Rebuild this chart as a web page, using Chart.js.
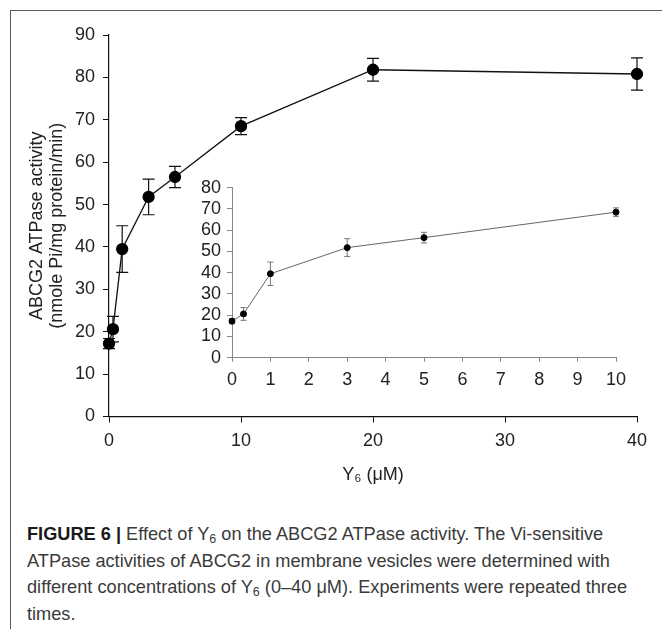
<!DOCTYPE html>
<html>
<head>
<meta charset="utf-8">
<script src="https://cdn.jsdelivr.net/npm/chart.js@4.4.1/dist/chart.umd.min.js"></script>
<style>
  html, body { margin: 0; padding: 0; background: #fff; }
  body { width: 662px; height: 629px; position: relative; overflow: hidden; }
  #frame { position: absolute; left: 10px; top: 10px; width: 700px; height: 700px;
           border: 1.5px solid #5a5a5a; box-sizing: border-box; }
  #mainWrap { position: absolute; left: 0; top: 0; width: 662px; height: 500px; }
  #insetWrap { position: absolute; left: 170px; top: 165px; width: 480px; height: 240px; }
  #caption { position: absolute; left: 27px; top: 521px; font-family: 'Liberation Sans', Arial, sans-serif;
             font-size: 18.2px; line-height: 26.5px; color: #3a3a3a; white-space: nowrap; }
  #caption b { color: #1a1a1a; }
  #caption sub { font-size: 12.5px; vertical-align: -3px; line-height: 0; }
</style>
</head>
<body>
<div id="frame"></div>
<div id="mainWrap"><canvas id="mainChart" width="662" height="500"></canvas></div>
<div id="insetWrap"><canvas id="insetChart" width="480" height="240"></canvas></div>
<div id="caption"><b>FIGURE 6 |</b> Effect of Y<sub>6</sub> on the ABCG2 ATPase activity. The Vi-sensitive<br>ATPase activities of ABCG2 in membrane vesicles were determined with<br>different concentrations of Y<sub>6</sub> (0–40 μM). Experiments were repeated three<br>times.</div>
<script>
// Y6 concentration (uM), ATPase activity and error (nmole Pi/mg protein/min)
const conc = [0, 0.3, 1, 3, 5, 10, 20, 40];
const activity = [17.2, 20.6, 39.5, 51.8, 56.5, 68.5, 81.8, 80.8];
const errors = [1.2, 3.0, 5.5, 4.2, 2.5, 2.0, 2.7, 3.8];

const mainXTicks = [0, 10, 20, 30, 40];
const mainYTicks = [0, 10, 20, 30, 40, 50, 60, 70, 80, 90];
const insetMaxConc = 10;

Chart.defaults.font.family = "'Liberation Sans', Arial, sans-serif";
Chart.defaults.color = '#222';

const mainPoints = conc.map((c, i) => ({ x: c, y: activity[i] }));
const insetIdx = conc.map((c, i) => i).filter(i => conc[i] <= insetMaxConc);
const insetPoints = insetIdx.map(i => ({ x: conc[i], y: activity[i] }));
const insetErrors = insetIdx.map(i => errors[i]);

// draws vertical error bars with caps
function errorBars(errs, color, cap, width) {
  return {
    id: 'errorBars',
    beforeDatasetsDraw(chart) {
      const ctx = chart.ctx;
      const meta = chart.getDatasetMeta(0);
      const yScale = chart.scales.y;
      const data = chart.data.datasets[0].data;
      ctx.save();
      ctx.strokeStyle = color;
      ctx.lineWidth = width;
      meta.data.forEach((pt, i) => {
        const top = yScale.getPixelForValue(data[i].y + errs[i]);
        const bot = yScale.getPixelForValue(data[i].y - errs[i]);
        ctx.beginPath();
        ctx.moveTo(pt.x, top); ctx.lineTo(pt.x, bot);
        ctx.moveTo(pt.x - cap, top); ctx.lineTo(pt.x + cap, top);
        ctx.moveTo(pt.x - cap, bot); ctx.lineTo(pt.x + cap, bot);
        ctx.stroke();
      });
      ctx.restore();
    }
  };
}

new Chart(document.getElementById('mainChart'), {
  type: 'line',
  data: {
    datasets: [{
      data: mainPoints,
      borderColor: '#111',
      borderWidth: 1.3,
      pointRadius: 5.5,
      pointBackgroundColor: '#000',
      pointBorderColor: '#000',
      tension: 0,
      clip: false
    }]
  },
  options: {
    responsive: false,
    animation: false,
    events: [],
    layout: { padding: { left: 0, top: 35, right: 25, bottom: 0 } },
    plugins: { legend: { display: false }, tooltip: { enabled: false } },
    scales: {
      x: {
        type: 'linear', min: 0, max: 40,
        afterFit: s => { s.height = 83.5; },
        afterBuildTicks: s => { s.ticks = mainXTicks.map(v => ({ value: v })); },
        grid: { drawOnChartArea: false, tickLength: 6, tickColor: '#111' },
        border: { color: '#111', width: 1.2 },
        ticks: { font: { size: 18 }, padding: 8, maxRotation: 0 },
        title: { display: true, text: 'Y₆ (μM)', font: { size: 18, lineHeight: 1.15 }, padding: { bottom: 15 } }
      },
      y: {
        min: 0, max: 90,
        afterFit: s => { s.width = 109; },
        afterBuildTicks: s => { s.ticks = mainYTicks.map(v => ({ value: v })); },
        grid: { drawOnChartArea: false, tickLength: 6, tickColor: '#111' },
        border: { color: '#111', width: 1.2 },
        ticks: { font: { size: 18 }, padding: 8 },
        title: { display: true, text: ['ABCG2 ATPase activity', '(nmole Pi/mg protein/min)'],
                 font: { size: 18, lineHeight: 1.1 }, padding: { top: 27 } }
      }
    }
  },
  plugins: [errorBars(errors, '#111', 6, 1.2)]
});

new Chart(document.getElementById('insetChart'), {
  type: 'line',
  data: {
    datasets: [{
      data: insetPoints,
      borderColor: '#666',
      borderWidth: 1,
      pointRadius: 3,
      pointBackgroundColor: '#000',
      pointBorderColor: '#000',
      tension: 0,
      clip: false
    }]
  },
  options: {
    responsive: false,
    animation: false,
    events: [],
    layout: { padding: { left: 0, top: 22.7, right: 34, bottom: 0 } },
    plugins: { legend: { display: false }, tooltip: { enabled: false } },
    scales: {
      x: {
        type: 'linear', min: 0, max: 10,
        afterFit: s => { s.height = 47.3; },
        grid: { drawOnChartArea: false, tickLength: 4, tickColor: '#888' },
        border: { color: '#888', width: 1 },
        ticks: { font: { size: 18 }, stepSize: 1, padding: 8, maxRotation: 0 }
      },
      y: {
        min: 0, max: 80,
        afterFit: s => { s.width = 62; },
        grid: { drawOnChartArea: false, tickLength: 5, tickColor: '#888' },
        border: { color: '#888', width: 1 },
        ticks: { font: { size: 18 }, stepSize: 10, padding: 6, autoSkip: false }
      }
    }
  },
  plugins: [errorBars(insetErrors, '#777', 3, 1)]
});
</script>
</body>
</html>
